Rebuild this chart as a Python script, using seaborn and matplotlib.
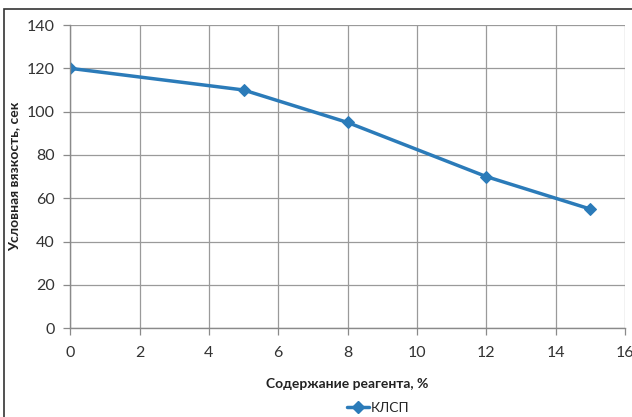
import matplotlib
matplotlib.use('Agg')
import matplotlib.pyplot as plt
import seaborn as sns
import pandas as pd
from matplotlib.patches import Rectangle

# данные
reagent = [0, 5, 8, 12, 15]
viscosity = [120, 110, 95, 70, 55]
series_name = 'КЛСП'

df = pd.DataFrame({'reagent': reagent, 'viscosity': viscosity, 'series': series_name})

sns.set_style('white')
plt.rcParams['font.family'] = ['Lato', 'DejaVu Sans']

fig = plt.figure(figsize=(6.32, 4.17), dpi=100)
ax = fig.add_axes([0.111, 0.213, 0.878, 0.727])

color = '#2b7bb9'
sns.lineplot(x='reagent', y='viscosity', hue='series', data=df, ax=ax,
             palette=[color], marker='D', markersize=6, linewidth=2.5,
             markeredgecolor=color, legend=False)

ax.set_xlim(0, 16)
ax.set_ylim(0, 140)
ax.set_xticks(range(0, 17, 2))
ax.set_yticks(range(0, 141, 20))
ax.grid(True, color='#9a9a9a', linewidth=0.9)
ax.set_axisbelow(True)
for s in ['top', 'right']:
    ax.spines[s].set_visible(False)
for s in ['left', 'bottom']:
    ax.spines[s].set_color('#8a8a8a')
    ax.spines[s].set_linewidth(1.0)
ax.tick_params(axis='both', which='major', length=5, width=0.9, color='#8a8a8a',
               labelsize=11.5, labelcolor='#333333', direction='out',
               bottom=True, left=True)
ax.tick_params(axis='x', pad=8)
ax.tick_params(axis='y', pad=6)

ax.set_xlabel('Содержание реагента, %', fontsize=10, fontweight='bold',
              color='#222222', labelpad=13)
ax.set_ylabel('Условная вязкость, сек', fontsize=10, fontweight='bold',
              color='#222222', labelpad=5)

# легенда снизу
h = plt.Line2D([], [], color=color, marker='D', markersize=6, linewidth=2.5)
fig.legend([h], [series_name], loc='center', bbox_to_anchor=(0.598, 0.022),
           frameon=False, fontsize=10, handlelength=1.6, handletextpad=0.1)

# рамка
fig.patches.append(Rectangle((0.006, -0.1), 1.2, 1.078, transform=fig.transFigure,
                             fill=False, edgecolor='#333333', linewidth=1.2))

plt.savefig('out.png', dpi=100)
